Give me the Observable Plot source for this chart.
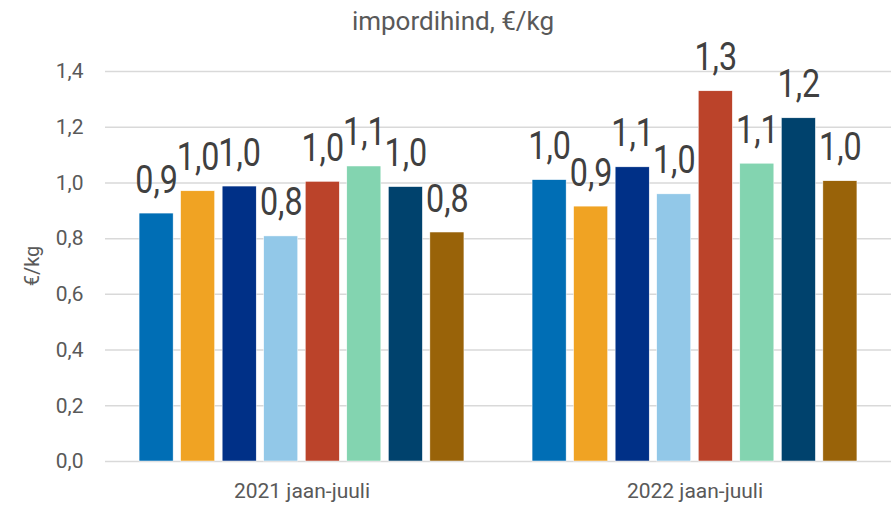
<!DOCTYPE html>
<html>
<head>
<meta charset="utf-8">
<script src="https://cdn.jsdelivr.net/npm/d3@7"></script>
<script src="https://cdn.jsdelivr.net/npm/@observablehq/plot@0.6"></script>
<style>
  body { margin: 0; background: white; }
  #chart { width: 891px; height: 507px; }
</style>
</head>
<body>
<div id="chart"></div>
<script>
const title = "impordihind, €/kg";
const yLabel = "€/kg";
const groups = ["2021 jaan-juuli", "2022 jaan-juuli"];
const series = ["seeria 1", "seeria 2", "seeria 3", "seeria 4", "seeria 5", "seeria 6", "seeria 7", "seeria 8"];
const values2021 = [0.890, 0.970, 0.987, 0.808, 1.004, 1.059, 0.985, 0.822];
const values2022 = [1.010, 0.915, 1.056, 0.959, 1.329, 1.069, 1.232, 1.006];
const colors = ["#006eb5", "#f0a323", "#003087", "#92c8e8", "#bb432a", "#83d4b0", "#00426d", "#996309"];
const yTicks = [0, 0.2, 0.4, 0.6, 0.8, 1.0, 1.2, 1.4];

const valuesByGroup = [values2021, values2022];
const data = groups.flatMap((g, i) => series.map((s, j) => ({group: g, series: s, value: valuesByGroup[i][j]})));
const fmt = v => d3.format(".1f")(v).replace(".", ",");

const chart = Plot.plot({
  width: 891,
  height: 507,
  marginTop: 71,
  marginBottom: 46,
  marginLeft: 105,
  marginRight: 0,
  style: {fontFamily: "Roboto, sans-serif", background: "white", overflow: "visible"},
  fx: {domain: groups, padding: 0, label: null, axis: null},
  x: {domain: series, axis: null, paddingInner: 0.18, paddingOuter: 0.82, round: false},
  y: {domain: [0, 1.4], axis: null},
  color: {domain: series, range: colors},
  marks: [
    Plot.ruleY(yTicks, {stroke: "#d9d9d9", strokeWidth: 1.5}),
    Plot.barY(data, {fx: "group", x: "series", y: "value", fill: "series", stroke: "white", strokeWidth: 0.5}),
    Plot.text(data, {fx: "group", x: "series", y: "value", text: d => fmt(d.value), lineAnchor: "bottom", dy: -21, fontSize: 38, fill: "#404040", className: "vlabel"}),
    Plot.axisY({ticks: yTicks, tickSize: 0, tickPadding: 22, tickFormat: fmt, fontSize: 21, fill: "#595959", label: null}),
    Plot.axisFx({anchor: "bottom", tickSize: 0, tickPadding: 22, fontSize: 21, fill: "#595959", label: null})
  ]
});

const svg = d3.select(chart);
svg.selectAll(".vlabel text").attr("transform", function() {
  return (this.getAttribute("transform") || "") + " scale(0.85,1)";
});
svg.append("text")
  .attr("x", 453).attr("y", 30)
  .attr("text-anchor", "middle")
  .attr("font-size", 26)
  .attr("fill", "#595959")
  .text(title);
svg.append("text")
  .attr("transform", "translate(39,266) rotate(-90)")
  .attr("text-anchor", "middle")
  .attr("font-size", 20)
  .attr("fill", "#595959")
  .text(yLabel);

document.getElementById("chart").appendChild(chart);
</script>
</body>
</html>
